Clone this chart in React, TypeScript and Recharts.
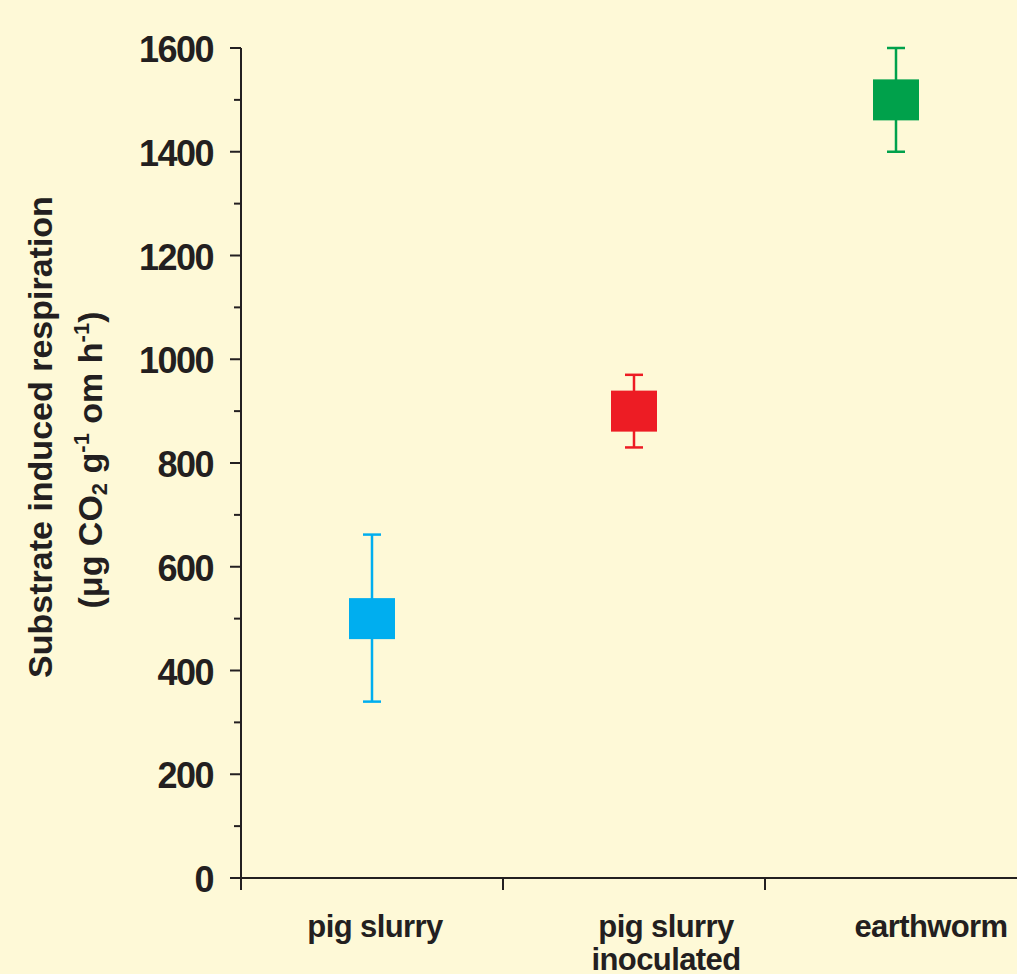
import React from 'react';
import { ComposedChart, Scatter, XAxis, YAxis, ErrorBar } from 'recharts';

const categories = ['pig slurry', 'pig slurry inoculated', 'earthworm'];
const categoryLines = [['pig slurry'], ['pig slurry', 'inoculated'], ['earthworm']];
const respiration = [500, 900, 1500];
const errorLow = [160, 70, 100];
const errorHigh = [162, 70, 100];
const yTicks = [0, 100, 200, 300, 400, 500, 600, 700, 800, 900, 1000, 1100, 1200, 1300, 1400, 1500, 1600];

const seriesColors = ['#00AEEF', '#ED1C24', '#00A14B'];
const INK = '#231F20';
const BG = '#FEF9D7';
const FONT = '"Liberation Sans", Arial, Helvetica, sans-serif';

const CHART_W = 1040;
const CHART_H = 974;
const MARGIN = { top: 48, right: 13, bottom: 0, left: 0 };
const Y_AXIS_W = 241;
const X_AXIS_H = 96;
const BAND = (CHART_W - MARGIN.left - MARGIN.right - Y_AXIS_W) / categories.length;
// labels in the original sit a little right of the band centre
const labelShift = [3, 32, 35];

const rows = categories.map((name, i) => ({
  name,
  value: respiration[i],
  err: [errorLow[i], errorHigh[i]],
}));

const square = (color: string) => (props: any) => {
  const { cx, cy } = props;
  if (cx == null || cy == null) return null;
  return <rect x={cx - 23} y={cy - 20.5} width={46} height={41} fill={color} />;
};

const YTick = (props: any) => {
  const { x, y, payload } = props;
  const major = payload.value % 200 === 0;
  return (
    <g>
      <line x1={x - (major ? 11 : 7)} x2={x} y1={y} y2={y} stroke={INK} strokeWidth={2} />
      {major && (
        <text
          x={x - 28}
          y={y}
          dy={14}
          textAnchor="end"
          fill={INK}
          fontFamily={FONT}
          fontWeight="bold"
          fontSize={36}
          letterSpacing={-1.5}
        >
          {payload.value}
        </text>
      )}
    </g>
  );
};

const XTick = (props: any) => {
  const { x, y, payload } = props;
  const i = categories.indexOf(payload.value);
  const lines = categoryLines[i] || [payload.value];
  return (
    <g>
      <line x1={x - BAND / 2} x2={x - BAND / 2} y1={y} y2={y + 12} stroke={INK} strokeWidth={2} />
      {lines.map((t: string, k: number) => (
        <text
          key={k}
          x={x + labelShift[i]}
          y={y + 59 + k * 33}
          textAnchor="middle"
          fill={INK}
          fontFamily={FONT}
          fontWeight="bold"
          fontSize={31}
          letterSpacing={-0.6}
        >
          {t}
        </text>
      ))}
    </g>
  );
};

const YLabel = () => (
  <svg
    width={200}
    height={CHART_H}
    style={{ position: 'absolute', left: 0, top: 0, pointerEvents: 'none' }}
  >
    <g fontFamily={FONT} fontWeight="bold" fill={INK} fontSize={34}>
      <text transform="translate(52,437) rotate(-90)" textAnchor="middle">
        Substrate induced respiration
      </text>
      <text transform="translate(102,460) rotate(-90)" textAnchor="middle">
        <tspan>(μg CO</tspan>
        <tspan fontSize={22} dy={5}>2</tspan>
        <tspan dy={-5}> g</tspan>
        <tspan fontSize={22} dy={-13}>-1</tspan>
        <tspan dy={13}> om h</tspan>
        <tspan fontSize={22} dy={-13}>-1</tspan>
        <tspan dy={13}>)</tspan>
      </text>
    </g>
  </svg>
);

const App = () => {
  return (
    <div
      style={{
        position: 'absolute',
        left: 0,
        top: 0,
        width: 1017,
        height: 974,
        overflow: 'hidden',
        background: BG,
      }}
    >
      <ComposedChart width={CHART_W} height={CHART_H} margin={MARGIN}>
        <XAxis
          dataKey="name"
          type="category"
          scale="point"
          padding={{ left: BAND / 2, right: BAND / 2 }}
          allowDuplicatedCategory={false}
          interval={0}
          height={X_AXIS_H}
          tickLine={false}
          tickSize={0}
          tickMargin={0}
          tick={<XTick />}
          axisLine={{ stroke: INK, strokeWidth: 2 }}
        />
        <YAxis
          type="number"
          domain={[0, 1600]}
          ticks={yTicks}
          interval={0}
          width={Y_AXIS_W}
          tickLine={false}
          tickSize={0}
          tickMargin={0}
          tick={<YTick />}
          axisLine={{ stroke: INK, strokeWidth: 2 }}
        />
        {rows.map((row, i) => (
          <Scatter
            key={row.name}
            name={row.name}
            data={[row]}
            dataKey="value"
            shape={square(seriesColors[i])}
            isAnimationActive={false}
          >
            <ErrorBar
              dataKey="err"
              direction="y"
              width={9}
              stroke={seriesColors[i]}
              strokeWidth={2.5}
              isAnimationActive={false}
            />
          </Scatter>
        ))}
      </ComposedChart>
      <YLabel />
    </div>
  );
};

export default App;
